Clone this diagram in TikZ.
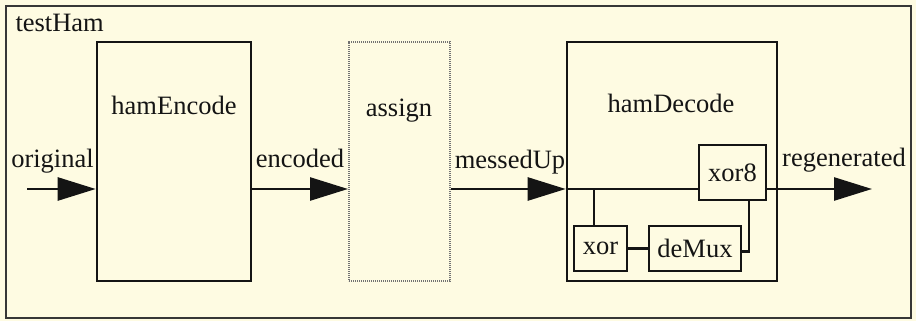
\documentclass[tikz,border=0pt]{standalone}
\usepackage{fontspec}
\setmainfont{Liberation Serif}
\usetikzlibrary{arrows.meta, positioning, calc}
\definecolor{paper}{RGB}{254,251,226}
\definecolor{ink}{RGB}{20,20,20}

\begin{document}
\begin{tikzpicture}[x=1pt,y=-1pt,
    every node/.style={font=\fontsize{26.5}{30}\selectfont, text=ink},
    blk/.style={draw=ink, line width=2.6pt, inner sep=0pt},
    wire/.style={draw=ink, line width=2.6pt},
    sig/.style={wire, -{Triangle[length=38pt,width=23pt]}}]
      \fill[paper] (0,0) rectangle (916,321);
      \useasboundingbox (0,0) rectangle (916,321);
      \draw[ink!85, line width=1.8pt] (6,6) rectangle (911,318);
      \node[anchor=base west] (title) at (12,32) {testHam};
      \node[blk, minimum width=154pt, minimum height=239pt] (enc) at (174,161.5) {};
      \node[draw=ink!60, dash pattern=on 1.2pt off 0.8pt, line width=2pt, inner sep=0pt, minimum width=101pt, minimum height=239pt] (asg) at (399.5,161.5) {};
      \node[blk, minimum width=210pt, minimum height=239pt] (dec) at (672,161.5) {};
      \node[anchor=base] (encT) at (174,114) {hamEncode};
      \node[anchor=base] (asgT) at (399,116) {assign};
      \node[anchor=base] (decT) at (671,112) {hamDecode};
      \node[blk, minimum width=67pt, minimum height=55pt] (xoreight) at (732.5,172.5) {xor8};
      \node[blk, minimum width=53pt, minimum height=45pt] (xr) at (600.5,248.5) {xor};
      \node[blk, minimum width=92pt, minimum height=45pt] (dmx) at (695,248.5) {deMux};
      \coordinate (in) at (27,189);
      \coordinate (out) at (872,189);
      \coordinate (tap) at (594,189);
      \draw[sig] (in) -- (in -| enc.west);
      \draw[sig] (enc.east |- in) -- (asg.west |- in);
      \draw[sig] (asg.east |- in) -- (dec.west |- in);
      \draw[wire] (dec.west |- in) -- (xoreight.west |- in);
      \draw[sig] (xoreight.east |- in) -- (out);
      \draw[wire] (tap) -- (tap |- xr.north);
      \draw[wire] (xr.east) -- (dmx.west);
      \draw[wire] ([yshift=-3pt]dmx.east) -| ([xshift=16.5pt]xoreight.south);
      \node[anchor=base] (lorig) at (52.5,167) {original};
      \node[anchor=base] (lenc) at (300,167) {encoded};
      \node[anchor=base] (lmes) at (510,168) {messedUp};
      \node[anchor=base] (lreg) at (844,166) {regenerated};
\end{tikzpicture}
\end{document}
